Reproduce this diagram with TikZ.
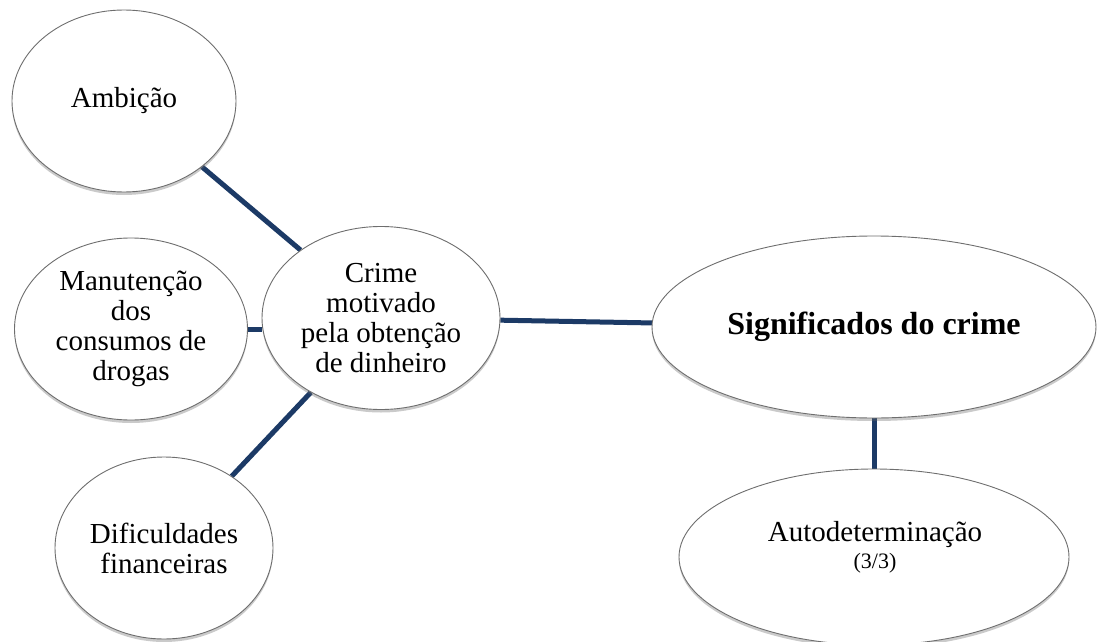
\documentclass[tikz,border=0pt]{standalone}
\usepackage{fontspec}
\setmainfont{Liberation Serif}
\usetikzlibrary{shapes.geometric,shadows,backgrounds}
\definecolor{navy}{HTML}{1C3A66}
\definecolor{rim}{HTML}{6E6E6E}
\tikzset{
  bub/.style={ellipse, draw=rim, line width=0.9pt, fill=white, inner sep=0pt, align=center,
    font=\fontsize{29}{30}\selectfont,
    drop shadow={shadow xshift=0pt, shadow yshift=-3pt, opacity=0.35, fill=black!60}},
  link/.style={draw=navy, line width=5pt}
}
\begin{document}
\begin{tikzpicture}[x=1pt,y=-1pt]
\useasboundingbox (0,0) rectangle (1098,642);
\node[bub, minimum width=224pt, minimum height=182pt] (amb) at (124,101) {Ambição};
\node[bub, minimum width=233pt, minimum height=182pt] (man) at (131,329) {Manutenção\\dos\\consumos de\\drogas};
\node[bub, minimum width=238pt, minimum height=183pt] (cri) at (381,318) {Crime\\motivado\\pela obtenção\\de dinheiro};
\node[bub, minimum width=218pt, minimum height=182pt] (dif) at (164,548) {Dificuldades\\financeiras};
\node[bub, minimum width=444pt, minimum height=182pt, font=\fontsize{32}{34}\selectfont\bfseries] (sig) at (874,327) {Significados do crime};
\node[bub, minimum width=390pt, minimum height=176pt] (aut) at (874,557) {};
\node[align=center, inner sep=0pt] (autt) at (875,547) {\fontsize{29}{30}\selectfont Autodeterminação\\[5pt]\fontsize{22}{23}\selectfont(3/3)};
\begin{scope}[on background layer]
\draw[link] (amb) -- (cri);
\draw[link] (man.east) -- (cri.west |- man.east);
\draw[link] (dif) -- (cri);
\draw[link] (cri) -- (sig);
\draw[link] (sig.south) -- (aut.north);
\end{scope}
\end{tikzpicture}
\end{document}
